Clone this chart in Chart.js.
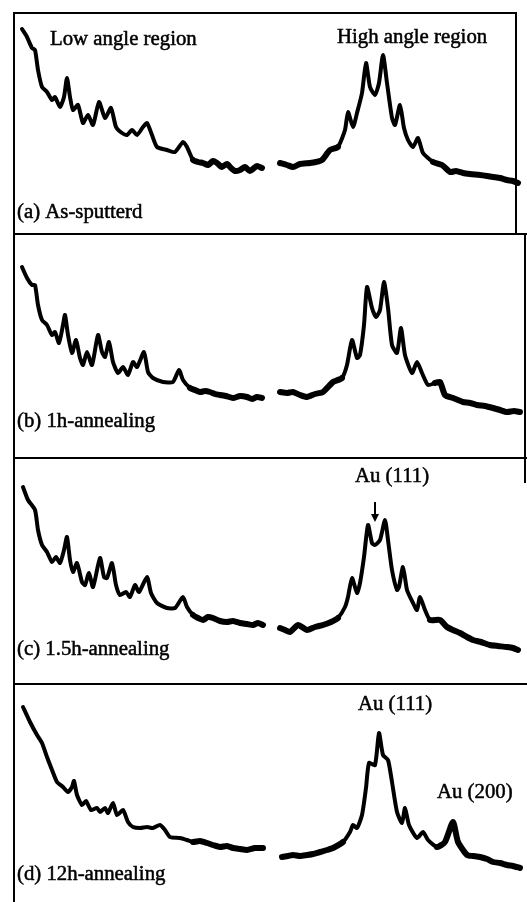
<!DOCTYPE html>
<html>
<head>
<meta charset="utf-8">
<title>XRD patterns</title>
<script src="https://cdn.jsdelivr.net/npm/chart.js@4.4.1/dist/chart.umd.min.js"></script>
<style>
html, body { margin: 0; padding: 0; background: #fff; }
#wrap { position: relative; width: 527px; height: 902px; overflow: hidden; }
#wrap canvas { position: absolute; left: 0; }
</style>
</head>
<body>
<div id="wrap">
  <canvas id="panelA" width="527" height="221" style="top:12px"></canvas>
  <canvas id="panelB" width="527" height="224" style="top:233px"></canvas>
  <canvas id="panelC" width="527" height="226" style="top:457px"></canvas>
  <canvas id="panelD" width="527" height="219" style="top:683px"></canvas>
</div>
<script>
// scan position (arb. units) / intensity (arb. units)
const lowA = [[22,204],[27,196],[32,185],[35,183],[38,163],[42,146],[47,141],[52,133],[55,136],[60,126],
  [64,136],[67,155],[70,136],[73,123],[78,128],[83,110],[88,118],[93,108],[99,131],[105,115],[111,125],
  [116,106],[122,100],[127,98],[132,103],[137,98],[143,106],[147,110],[152,98],[157,86],[167,83],[175,81],
  [183,91],[187,86],[193,73],[198,71],[203,70],[208,68],[213,72],[217,70],[222,66],[227,69],[231,65],
  [235,62],[240,63],[245,66],[250,62],[254,65],[257,67],[262,65]];
const highA = [[280,70],[287,68],[293,66],[300,69],[310,70],[316,71],[322,73],[330,83],[338,86],[345,103],
  [348,121],[353,106],[357,120],[362,140],[366,170],[370,146],[375,138],[379,150],[383,178],[387,150],
  [392,115],[395,108],[400,128],[404,105],[408,93],[413,86],[418,95],[423,80],[433,71],[442,68],[450,61],
  [456,62],[463,60],[470,59],[480,58],[487,57],[493,56],[500,55],[507,53],[513,52],[518,50]];

const lowB = [[22,190],[27,179],[32,172],[35,172],[38,152],[42,137],[47,132],[52,122],[55,125],[59,114],
  [63,132],[65,142],[68,122],[72,104],[76,117],[80,99],[83,92],[87,105],[92,92],[98,122],[102,105],
  [105,100],[109,115],[113,95],[118,84],[123,90],[128,82],[133,95],[137,90],[144,105],[148,85],[153,79],
  [163,75],[173,75],[179,87],[183,77],[190,69],[195,67],[200,65],[205,66],[210,65],[215,63],[220,62],
  [226,61],[233,59],[240,61],[247,60],[252,58],[257,60],[262,59]];
const highB = [[280,65],[287,64],[293,65],[300,62],[307,60],[315,63],[323,65],[333,75],[342,79],[347,92],
  [352,117],[357,99],[360,102],[364,132],[367,170],[372,149],[376,140],[380,147],[384,175],[388,149],
  [392,112],[397,104],[401,129],[405,102],[412,84],[417,95],[422,84],[428,72],[435,74],[440,75],[445,62],
  [453,59],[458,57],[463,55],[470,54],[477,52],[485,51],[493,49],[500,47],[507,45],[514,46],[520,45]];

const lowC = [[23,196],[28,183],[35,173],[38,153],[42,138],[47,131],[52,121],[56,126],[60,120],[64,133],
  [67,146],[70,123],[73,111],[77,120],[82,101],[85,98],[89,110],[93,96],[100,125],[104,106],[107,105],
  [112,120],[116,98],[120,88],[126,91],[130,86],[135,98],[139,91],[147,106],[151,90],[157,80],[167,75],
  [175,75],[183,86],[187,76],[193,68],[198,65],[203,63],[208,66],[213,65],[220,62],[227,61],[233,62],
  [240,60],[247,59],[253,58],[258,60],[263,58]];
const highC = [[280,55],[285,53],[290,51],[298,58],[307,53],[315,56],[323,58],[331,61],[338,65],[345,76],
  [348,86],[352,105],[357,90],[360,100],[364,126],[368,158],[372,140],[375,138],[380,143],[385,163],
  [388,143],[392,113],[397,93],[399,96],[403,116],[407,93],[413,80],[417,73],[420,86],[425,73],[430,63],
  [440,63],[447,56],[453,53],[460,50],[467,46],[473,43],[481,41],[490,38],[498,37],[507,36],[513,35],[518,33]];

const lowD = [[23,195],[30,180],[37,167],[42,159],[47,145],[52,132],[57,120],[63,115],[68,110],[72,115],
  [74,121],[77,107],[82,97],[86,101],[91,92],[97,94],[100,90],[105,94],[108,89],[113,99],[117,87],
  [123,92],[128,80],[133,75],[140,74],[147,75],[153,74],[160,77],[165,72],[170,65],[180,64],[187,62],
  [193,60],[200,61],[207,59],[213,57],[220,55],[227,56],[233,54],[240,53],[247,52],[255,54],[263,54]];
const highD = [[282,45],[288,46],[293,47],[300,46],[307,47],[313,48],[320,50],[327,52],[333,54],[343,60],
  [350,70],[353,77],[357,74],[362,87],[366,114],[369,139],[375,137],[379,169],[383,147],[388,142],
  [392,120],[397,90],[402,79],[405,94],[409,77],[417,64],[423,70],[428,62],[437,55],[445,60],[453,80],
  [458,60],[467,47],[473,46],[480,45],[487,43],[493,40],[500,39],[507,37],[513,36],[520,34]];

const panelLabels = ['(a) As-sputterd', '(b) 1h-annealing', '(c) 1.5h-annealing', '(d) 12h-annealing'];
const regionLabels = ['Low angle region', 'High angle region'];
const peakLabels = ['Au (111)', 'Au (200)'];

const labelFont = '20px "Liberation Serif", "DejaVu Serif", serif';

// frame lines and text drawn on top of each panel
const panelDecor = {
  id: 'panelDecor',
  afterDatasetsDraw(chart, args, opts) {
    const { ctx, height } = chart;
    const x = chart.scales.x, y = chart.scales.y;
    ctx.save();
    ctx.strokeStyle = '#000';
    ctx.lineWidth = 2;
    ctx.beginPath();
    ctx.moveTo(14, 1);
    ctx.lineTo(opts.topEnd, 1);
    ctx.moveTo(14, 0);
    ctx.lineTo(14, height);
    if (opts.right) {
      ctx.moveTo(opts.right, 0);
      ctx.lineTo(opts.right, opts.rightLen || height);
    }
    ctx.stroke();

    ctx.fillStyle = '#000';
    ctx.textBaseline = 'middle';
    ctx.textAlign = 'left';
    ctx.font = labelFont;
    (opts.notes || []).forEach(n => {
      const px = x.getPixelForValue(n.x), py = y.getPixelForValue(n.y);
      ctx.save();
      ctx.translate(px, py);
      ctx.scale(1.04, 1);
      ctx.lineWidth = 0.5;
      ctx.fillText(n.text, 0, 0);
      ctx.strokeText(n.text, 0, 0);
      ctx.restore();
    });
    if (opts.arrow) {
      const ax = x.getPixelForValue(opts.arrow.x);
      const y0 = y.getPixelForValue(opts.arrow.from);
      const y1 = y.getPixelForValue(opts.arrow.to);
      ctx.lineWidth = 2;
      ctx.beginPath();
      ctx.moveTo(ax, y0);
      ctx.lineTo(ax, y1 - 3);
      ctx.stroke();
      ctx.beginPath();
      ctx.moveTo(ax - 4, y1 - 8);
      ctx.lineTo(ax, y1);
      ctx.lineTo(ax + 4, y1 - 8);
      ctx.closePath();
      ctx.fill();
    }
    ctx.restore();
  }
};

// flat background stretches are noisier, so draw them wider
function isTail(x) {
  return (x > 188 && x < 270) || (x > 270 && x < 334) || x > 428;
}

function lineSet(points) {
  return {
    data: points.map(p => ({ x: p[0], y: p[1] })),
    showLine: true,
    borderColor: '#000',
    borderWidth: 4,
    pointRadius: 0,
    tension: 0.2,
    borderJoinStyle: 'round',
    borderCapStyle: 'round',
    segment: {
      borderWidth: ctx => isTail(ctx.p0.parsed.x) ? 6 : 4
    }
  };
}

function makePanel(id, low, high, height, decor) {
  new Chart(document.getElementById(id), {
    type: 'scatter',
    data: { datasets: [lineSet(low), lineSet(high)] },
    options: {
      responsive: false,
      animation: false,
      devicePixelRatio: 1,
      layout: { padding: 0 },
      plugins: {
        legend: { display: false },
        tooltip: { enabled: false },
        panelDecor: decor
      },
      scales: {
        x: { type: 'linear', min: 0, max: 527, display: false },
        y: { type: 'linear', min: 0, max: height, display: false }
      }
    },
    plugins: [panelDecor]
  });
}

makePanel('panelA', lowA, highA, 221, {
  topEnd: 516, right: 516,
  notes: [
    { text: regionLabels[0], x: 50, y: 193 },
    { text: regionLabels[1], x: 337, y: 195 },
    { text: panelLabels[0], x: 17, y: 20 }
  ]
});
makePanel('panelB', lowB, highB, 224, {
  topEnd: 527, right: 525,
  notes: [{ text: panelLabels[1], x: 17, y: 35 }]
});
makePanel('panelC', lowC, highC, 226, {
  topEnd: 527, right: 525, rightLen: 26,
  notes: [
    { text: peakLabels[0], x: 355, y: 206 },
    { text: panelLabels[2], x: 17, y: 33 }
  ],
  arrow: { x: 375, from: 181, to: 161 }
});
makePanel('panelD', lowD, highD, 219, {
  topEnd: 527,
  notes: [
    { text: peakLabels[0], x: 358, y: 197 },
    { text: peakLabels[1], x: 437, y: 109 },
    { text: panelLabels[3], x: 17, y: 27 }
  ]
});
</script>
</body>
</html>
